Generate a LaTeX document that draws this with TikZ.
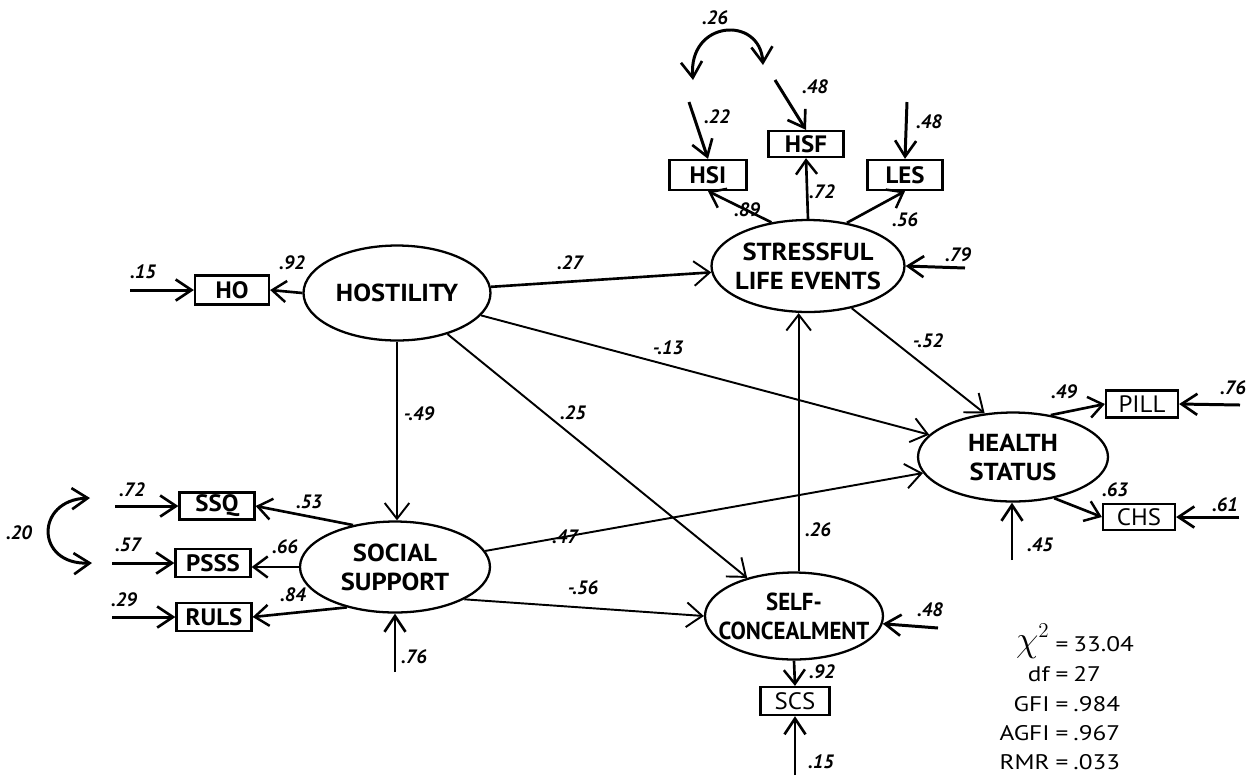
\documentclass[tikz,border=0pt]{standalone}
\usepackage{fontspec}
\setmainfont{PT Sans}
\newfontfamily\nodefont[FakeStretch=1.08]{PT Sans}
\newfontfamily\scfont[FakeStretch=0.93]{PT Sans}
\newfontfamily\boxfont[FakeStretch=1.05]{PT Sans}
\newfontfamily\statfont[FakeStretch=1.2]{PT Sans}
\usetikzlibrary{shapes.geometric,arrows.meta}
\begin{document}
\begin{tikzpicture}[x=0.02cm,y=-0.02cm,
  latent/.style={ellipse,draw,line width=1.3pt,inner xsep=-12pt,inner ysep=-4pt,align=center,
    font=\nodefont\bfseries\fontsize{14}{16.5}\selectfont},
  obs/.style={rectangle,draw,line width=1.3pt,inner sep=0pt,
    font=\boxfont\bfseries\fontsize{13.5}{15}\selectfont},
  obsthin/.style={obs,font=\boxfont\fontsize{13.5}{15}\selectfont},
  lbl/.style={font=\bfseries\itshape\fontsize{11}{12}\selectfont,inner sep=0pt},
  err/.style={line width=1.7pt,-{Straight Barb[length=9pt,width=12pt,line width=1.5pt]}},
  load/.style={line width=1.5pt,-{Straight Barb[length=8pt,width=12pt,line width=1.4pt]}},
  path/.style={line width=1.1pt,-{Straight Barb[length=9pt,width=14pt,line width=1.1pt]}},
  corr/.style={line width=1.7pt,{Straight Barb[length=9pt,width=12pt,line width=1.5pt]}-{Straight Barb[length=9pt,width=12pt,line width=1.5pt]}},
  stat/.style={font=\statfont\fontsize{12}{14}\selectfont,inner sep=0pt}
]
\useasboundingbox (0,0) rectangle (1249,779);

% latent variables
\node[latent,minimum width=3.74cm,minimum height=1.9cm] (host) at (397,293) {HOSTILITY};
\node[latent,minimum width=3.86cm,minimum height=1.84cm] (sle) at (808,266) {STRESSFUL\\LIFE EVENTS};
\node[latent,minimum width=3.8cm,minimum height=1.78cm] (hs) at (1013,457) {HEALTH\\STATUS};
\node[latent,minimum width=3.8cm,minimum height=1.82cm] (ss) at (395,567) {SOCIAL\\SUPPORT};
\node[latent,minimum width=3.56cm,minimum height=1.74cm,
  font=\scfont\bfseries\fontsize{14}{16.5}\selectfont] (sc) at (794,616) {SELF-\\CONCEALMENT};

% observed variables
\node[obs,minimum width=1.54cm,minimum height=0.6cm] (hsi) at (708,175) {HSI};
\node[obs,minimum width=1.5cm,minimum height=0.52cm] (hsf) at (806,144) {HSF};
\node[obs,minimum width=1.5cm,minimum height=0.6cm] (les) at (905,175) {LES};
\node[obs,minimum width=1.48cm,minimum height=0.58cm] (ho) at (232,290) {HO};
\node[obs,minimum width=1.5cm,minimum height=0.54cm] (ssq) at (217,506) {SSQ};
\node[obs,minimum width=1.5cm,minimum height=0.56cm] (psss) at (213,563) {PSSS};
\node[obs,minimum width=1.5cm,minimum height=0.56cm] (ruls) at (214,617) {RULS};
\node[obsthin,minimum width=1.44cm,minimum height=0.54cm] (pill) at (1142,404) {PILL};
\node[obsthin,minimum width=1.44cm,minimum height=0.52cm] (chs) at (1139,517) {CHS};
\node[obsthin,minimum width=1.38cm,minimum height=0.56cm] (scs) at (795,701) {SCS};

% free ends of error arrows
\coordinate (eho) at (130,290);
\coordinate (ehsi) at (689,102);
\coordinate (ehsf) at (775,80);
\coordinate (eles) at (907,102);
\coordinate (esle) at (965,268);
\coordinate (ehs) at (1012,560);
\coordinate (epill) at (1240,405);
\coordinate (echs) at (1239,517);
\coordinate (ess) at (395,672);
\coordinate (esc) at (938,628);
\coordinate (escs) at (795,775);
\coordinate (essq) at (115,506);
\coordinate (epsss) at (112,563);
\coordinate (eruls) at (112,617);
\coordinate (c1a) at (693,80);
\coordinate (c1b) at (763,65);
\coordinate (c2a) at (90,498);
\coordinate (c2b) at (92,563);

% error arrows
\draw[err] (eho) -- (ho.west);
\draw[err] (ehsi) -- (hsi.north);
\draw[err] (ehsf) -- (hsf.north);
\draw[err] (eles) -- (les.north);
\draw[err] (esle) -- (sle.east);
\draw[err] (ehs) -- (ehs |- hs.south);
\draw[err] (epill) -- (pill.east);
\draw[err] (echs) -- (chs.east);
\draw[err] (ess) -- (ss.south);
\draw[err] (esc) -- (sc.-5);
\draw[err] (escs) -- (scs.south);
\draw[err] (essq) -- (ssq.west);
\draw[err] (epsss) -- (psss.west);
\draw[err] (eruls) -- (ruls.west);

% correlated errors
\draw[corr] (c1a) .. controls (688,20) and (760,15) .. (c1b);
\draw[corr] (c2a) .. controls (35,500) and (35,565) .. (c2b);

% loadings
\draw[load] (host.west) -- (ho.east);
\draw[load] (sle.130) -- (hsi.south);
\draw[load] (sle.north) -- (hsf.south);
\draw[load] (sle.48) -- (les.south);
\draw[load] (ss.135) -- (ssq.east);
\draw[load] (ss.west) -- (ss.west -| psss.east);
\draw[load] (ss.220) -- (ruls.east);
\draw[load] (hs.48) -- (pill.west);
\draw[load] (hs.-45) -- (chs.west);
\draw[load] (sc.south) -- (scs.north);

% structural paths
\draw[path,line width=1.5pt] (host) -- (sle);
\draw[path] (host) -- (hs);
\draw[path] (host.south) -- (host.south |- ss.north);
\draw[path] (host) -- (sc);
\draw[path] (ss) -- (hs);
\draw[path] (ss.-25) -- (sc.west);
\draw[path] (sc.84) -- (sc.84 |- sle.south);
\draw[path] (sle.-44) -- (hs.123);

% coefficient labels
\node[lbl] (l1) at (143,272) {.15};
\node[lbl] (l2) at (292,263) {.92};
\node[lbl] (l3) at (570,263) {.27};
\node[lbl] (l4) at (668,348) {-.13};
\node[lbl] (l5) at (419,414) {-.49};
\node[lbl] (l6) at (573,413) {.25};
\node[lbl] (l7) at (565,537) {.47};
\node[lbl] (l8) at (818,530) {.26};
\node[lbl] (l9) at (583,588) {-.56};
\node[lbl] (l10) at (928,341) {-.52};
\node[lbl] (l11) at (1064,392) {.49};
\node[lbl] (l12) at (1233,388) {.76};
\node[lbl] (l13) at (1115,490) {.63};
\node[lbl] (l14) at (1225,505) {.61};
\node[lbl] (l15) at (1040,545) {.45};
\node[lbl] (l16) at (958,255) {.79};
\node[lbl] (l17) at (747,210) {.89};
\node[lbl] (l18) at (822,192) {.72};
\node[lbl] (l19) at (905,220) {.56};
\node[lbl] (l20) at (717,117) {.22};
\node[lbl] (l21) at (815,87) {.48};
\node[lbl] (l22) at (929,122) {.48};
\node[lbl] (l23) at (715,18) {.26};
\node[lbl] (l24) at (132,490) {.72};
\node[lbl] (l25) at (128,545) {.57};
\node[lbl] (l26) at (124,600) {.29};
\node[lbl] (l27) at (309,502) {.53};
\node[lbl] (l28) at (285,547) {.66};
\node[lbl] (l29) at (293,595) {.84};
\node[lbl] (l30) at (19,533) {.20};
\node[lbl] (l31) at (414,657) {.76};
\node[lbl] (l32) at (930,610) {.48};
\node[lbl] (l33) at (822,672) {.92};
\node[lbl] (l34) at (821,762) {.15};

% fit statistics
\node[stat,anchor=base east] (sla) at (1050,651) {\huge$\chi^{\scriptscriptstyle 2}$};
\node[stat,anchor=base] (sea) at (1062,651) {=};
\node[stat,anchor=base west] (sra) at (1073,651) {33.04};
\node[stat,anchor=base east] (slb) at (1050,681) {df};
\node[stat,anchor=base] (seb) at (1062,681) {=};
\node[stat,anchor=base west] (srb) at (1073,681) {27};
\node[stat,anchor=base east] (slc) at (1050,711) {GFI};
\node[stat,anchor=base] (sec) at (1062,711) {=};
\node[stat,anchor=base west] (src) at (1073,711) {.984};
\node[stat,anchor=base east] (sld) at (1050,740) {AGFI};
\node[stat,anchor=base] (sed) at (1062,740) {=};
\node[stat,anchor=base west] (srd) at (1073,740) {.967};
\node[stat,anchor=base east] (sle2) at (1050,769) {RMR};
\node[stat,anchor=base] (see) at (1062,769) {=};
\node[stat,anchor=base west] (sre) at (1073,769) {.033};
\end{tikzpicture}
\end{document}
